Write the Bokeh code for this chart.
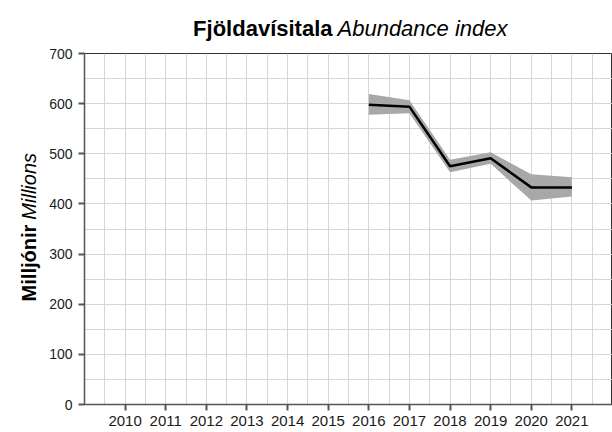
import math
from bokeh.plotting import figure
from bokeh.models import FixedTicker, Range1d
from bokeh.layouts import column, row
from bokeh.core.properties import value
from bokeh.embed import file_html
from bokeh.resources import INLINE

# ---- data ----
years = [2016, 2017, 2018, 2019, 2020, 2021]
index_mean = [598, 594, 475, 491, 433, 433]
index_lower = [578, 581, 463, 480, 407, 415]
index_upper = [619, 607, 488, 503, 459, 453]

x_tick_years = [2010, 2011, 2012, 2013, 2014, 2015, 2016, 2017, 2018, 2019, 2020, 2021]
y_ticks = [0, 100, 200, 300, 400, 500, 600, 700]

title_bold = "Fjöldavísitala"
title_italic = "Abundance index"
ylab_bold = "Milljónir"
ylab_italic = "Millions"

FONT = "Liberation Sans"
GRID = "#d6d6d6"
AXIS = "#555555"

TOTAL_W, TOTAL_H = 612, 432
TITLE_H = 45
YLAB_W = 44
MAIN_W = TOTAL_W - YLAB_W
MAIN_H = TOTAL_H - TITLE_H


def blank(w, h):
    f = figure(width=w, height=h, x_range=Range1d(0, w), y_range=Range1d(0, h),
               x_axis_location=None, y_axis_location=None, min_border=0,
               output_backend="svg", toolbar_location=None)
    f.grid.visible = False
    f.outline_line_color = None
    f.background_fill_color = "white"
    f.border_fill_color = "white"
    return f


# ---- title strip ----
tf = blank(TOTAL_W, TITLE_H)
tf.text(x=[332], y=[16.7], text=[title_bold], text_font=value(FONT),
        text_font_style="bold", text_font_size="22px", text_align="right",
        text_baseline="alphabetic", text_color="black")
tf.text(x=[337], y=[16.7], text=[title_italic], text_font=value(FONT),
        text_font_style="italic", text_font_size="22px", text_align="left",
        text_baseline="alphabetic", text_color="black")

# ---- y-label strip ----
yf = blank(YLAB_W, MAIN_H)
yf.text(x=[28], y=[198.2], text=[ylab_bold], angle=math.pi / 2, text_font=value(FONT),
        text_font_style="bold", text_font_size="20px", text_align="right",
        text_baseline="alphabetic", text_color="black")
yf.text(x=[28], y=[203.8], text=[ylab_italic], angle=math.pi / 2, text_font=value(FONT),
        text_font_style="italic", text_font_size="20px", text_align="left",
        text_baseline="alphabetic", text_color="black")

# ---- main plot ----
p = figure(width=MAIN_W, height=MAIN_H, output_backend="svg", toolbar_location=None,
           x_range=Range1d(2009, 2022), y_range=Range1d(0, 700),
           min_border_left=40, min_border_right=0, min_border_top=8,
           min_border_bottom=28)
p.background_fill_color = "white"
p.border_fill_color = "white"
p.outline_line_color = "#333333"
p.outline_line_width = 1

p.xgrid.ticker = FixedTicker(ticks=list(range(2009, 2023)),
                             minor_ticks=[y + 0.5 for y in range(2009, 2022)])
p.ygrid.ticker = FixedTicker(ticks=y_ticks,
                             minor_ticks=[t + 50 for t in y_ticks[:-1]])
for g in (p.xgrid, p.ygrid):
    g.grid_line_color = GRID
    g.grid_line_width = 1
    g.minor_grid_line_color = GRID
    g.minor_grid_line_width = 1

p.xaxis.ticker = FixedTicker(ticks=x_tick_years)
p.yaxis.ticker = FixedTicker(ticks=y_ticks)
for ax in (p.xaxis, p.yaxis):
    ax.axis_line_color = AXIS
    ax.axis_line_width = 1.5
    ax.major_tick_line_color = AXIS
    ax.major_tick_line_width = 2
    ax.major_tick_out = 6
    ax.major_tick_in = 0
    ax.minor_tick_line_color = None
    ax.major_label_text_font = FONT
    ax.major_label_text_color = "#1a1a1a"
p.xaxis.major_label_text_font_size = "15px"
p.yaxis.major_label_text_font_size = "14px"
p.xaxis.major_label_standoff = 5
p.yaxis.major_label_standoff = 6

p.varea(x=years, y1=index_lower, y2=index_upper, fill_color="#a8a8a8", fill_alpha=1)
p.line(x=years, y=index_mean, line_color="black", line_width=2.5)

layout = column(tf, row(yf, p, spacing=0), spacing=0)
open("out.html", "w").write(file_html(layout, INLINE))
